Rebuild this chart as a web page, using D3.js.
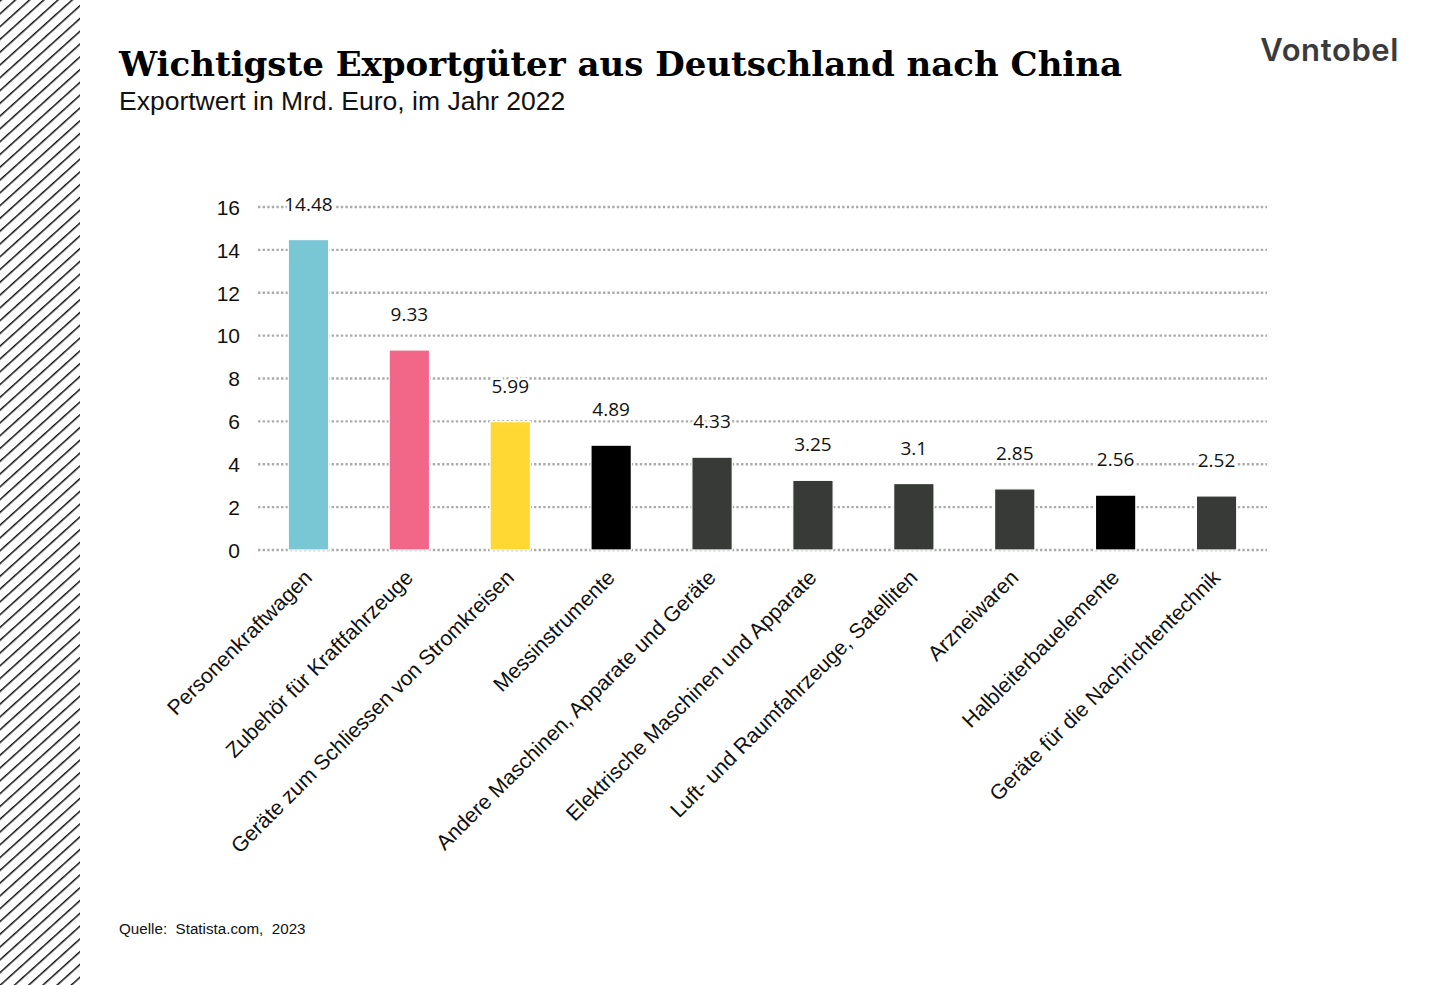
<!DOCTYPE html>
<html>
<head>
<meta charset="utf-8">
<script src="https://cdn.jsdelivr.net/npm/d3@7/dist/d3.min.js"></script>
<style>
html,body{margin:0;padding:0;background:#fff;}
svg{display:block;}
</style>
</head>
<body>
<script>
const categories = ["Personenkraftwagen","Zubehör für Kraftfahrzeuge","Geräte zum Schliessen von Stromkreisen","Messinstrumente","Andere Maschinen, Apparate und Geräte","Elektrische Maschinen und Apparate","Luft- und Raumfahrzeuge, Satelliten","Arzneiwaren","Halbleiterbauelemente","Geräte für die Nachrichtentechnik"];
const values = [14.48, 9.33, 5.99, 4.89, 4.33, 3.25, 3.1, 2.85, 2.56, 2.52];
const valueLabels = ["14.48","9.33","5.99","4.89","4.33","3.25","3.1","2.85","2.56","2.52"];
const barColors = ["#79C6D4","#F26788","#FFD833","#000000","#373A36","#373A36","#373A36","#373A36","#000000","#373A36"];
const yTicks = [0,2,4,6,8,10,12,14,16];

const W = 1440, H = 985;
const svg = d3.select("body").append("svg").attr("width", W).attr("height", H);

// hatch pattern
const defs = svg.append("defs");
const pat = defs.append("pattern").attr("id","hatch").attr("patternUnits","userSpaceOnUse")
  .attr("width", 9.5).attr("height", 9.5).attr("patternTransform","rotate(-42)");
pat.append("line").attr("x1",0).attr("y1",0).attr("x2",9.5).attr("y2",0)
  .attr("stroke","#111").attr("stroke-width",3);
svg.append("rect").attr("x",0).attr("y",0).attr("width",80).attr("height",H).attr("fill","url(#hatch)");

// title
svg.append("text").attr("x",119).attr("y",76)
  .attr("font-family","'DejaVu Serif', serif").attr("font-weight","bold").attr("font-size",34)
  .attr("fill","#000").text("Wichtigste Exportgüter aus Deutschland nach China");
svg.append("text").attr("x",119).attr("y",110)
  .attr("font-family","'Liberation Sans', Arial, sans-serif").attr("font-size",26.5)
  .attr("fill","#111").text("Exportwert in Mrd. Euro, im Jahr 2022");
svg.append("text").attr("x",1399).attr("y",61).attr("text-anchor","end")
  .attr("font-family","Inter, 'Open Sans', sans-serif").attr("font-weight","600").attr("font-size",31)
  .attr("letter-spacing","0.6").attr("fill","#3a3b3a").text("Vontobel");
svg.append("text").attr("x",119).attr("y",934)
  .attr("font-family","'Liberation Sans', Arial, sans-serif").attr("font-size",15.2)
  .attr("fill","#111").attr("xml:space","preserve").text("Quelle:  Statista.com,  2023");

const x = d3.scaleBand().domain(categories).range([258, 1267]).paddingInner(0.6).paddingOuter(0.3);
const y = d3.scaleLinear().domain([0,16]).range([550, 207]);

// grid
const g = svg.append("g");
g.selectAll("line.grid").data(yTicks).join("line").attr("class","grid")
  .attr("x1",258).attr("x2",1267).attr("y1",d=>y(d)).attr("y2",d=>y(d))
  .attr("stroke","#ababab").attr("stroke-width",2.4).attr("stroke-dasharray","2.4,2.2");

// y axis labels
const yAxis = d3.axisLeft(y).tickValues(yTicks).tickSize(0).tickPadding(0);
const ya = svg.append("g").attr("transform","translate(240,0)").call(yAxis);
ya.select(".domain").remove();
ya.selectAll("text").attr("font-family","'Liberation Sans', Arial, sans-serif").attr("font-size",21)
  .attr("fill","#111").attr("dy","0.35em");

// bars
svg.selectAll("rect.bar").data(values).join("rect").attr("class","bar")
  .attr("x",(d,i)=>x(categories[i])).attr("width",x.bandwidth())
  .attr("y",d=>y(d)).attr("height",d=>y(0)-y(d))
  .attr("fill",(d,i)=>barColors[i]).attr("stroke","#fff").attr("stroke-width",1.2);

// value labels
svg.selectAll("text.val").data(values).join("text").attr("class","val")
  .attr("x",(d,i)=>x(categories[i])+x.bandwidth()/2).attr("y",d=>y(d)-29)
  .attr("text-anchor","middle")
  .attr("font-family","'Open Sans', sans-serif").attr("font-size",19)
  .attr("fill","#111").attr("stroke","#fff").attr("stroke-width",5).attr("paint-order","stroke")
  .text((d,i)=>valueLabels[i]);

// x labels
const xAxis = d3.axisBottom(x).tickSize(0).tickPadding(0);
const xa = svg.append("g").attr("transform","translate(0,550)").call(xAxis);
xa.select(".domain").remove();
xa.selectAll("text")
  .attr("font-family","'Liberation Sans', Arial, sans-serif").attr("font-size",21.2)
  .attr("fill","#111").attr("text-anchor","end").attr("dy",null).attr("y",0).attr("x",0)
  .attr("transform","translate(5,29) rotate(-45)");
</script>
</body>
</html>
